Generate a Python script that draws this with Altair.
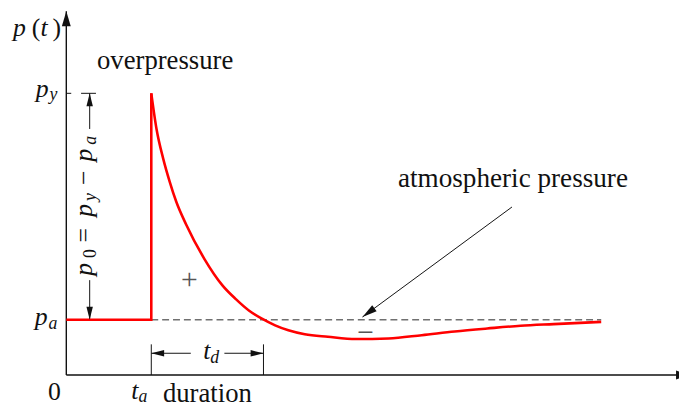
import altair as alt
import pandas as pd

# ---------------- data (schematic units: time in units of t_a, pressure in units of p_a) -------------
T_A = 1.0          # arrival time
T_D = 1.32         # positive-phase duration
P_A = 1.0          # ambient (atmospheric) pressure
P_Y = 5.09         # peak pressure
curve_t = [1.000, 1.062, 1.140, 1.217, 1.294, 1.410, 1.624, 1.837, 1.992, 2.148, 2.302,
           2.457, 2.613, 2.806, 3.078, 3.407, 3.791, 4.183, 4.570, 4.953, 5.345, 5.733, 6.294]
curve_p = [5.09, 4.44, 3.91, 3.49, 3.13, 2.72, 2.10, 1.62, 1.375, 1.166, 1.018,
           0.898, 0.809, 0.737, 0.691, 0.65, 0.66, 0.72, 0.786, 0.84, 0.89, 0.92, 0.96]
pre_t = [0.0, T_A, T_A]
pre_p = [P_A, P_A, P_Y]

# ---------------- layout ----------------
W, H = 679, 400
X0, Y0 = 59, 369      # origin inside the plot area (px)
SX, SY = 86, 56       # px per unit
xs = alt.Scale(domain=[-X0 / SX, (W - X0) / SX], nice=False, zero=False)
ys = alt.Scale(domain=[(Y0 - H) / SY, Y0 / SY], nice=False, zero=False)

FONT = "Liberation Serif, Times New Roman, DejaVu Serif, Noto Serif, serif"
INK = "#111111"
T_END = curve_t[-1]
X_TIP = (W - X0 + 12) / SX
Y_TIP = (Y0 - 1) / SY
DIM_X = 0.275          # vertical dimension line position
DIM_P = 0.393          # horizontal dimension line position
ATM_FROM = (5.244, 3.036)
ATM_TO = (3.485, 1.048)


def enc(**kw):
    out = dict(x=alt.X("t:Q", scale=xs, axis=None), y=alt.Y("p:Q", scale=ys, axis=None))
    out.update(kw)
    return out


def segs(rows, **mark):
    df = pd.DataFrame(rows, columns=["t", "p", "t2", "p2"])
    return alt.Chart(df).mark_rule(**mark).encode(
        **enc(x2=alt.X2("t2:Q"), y2=alt.Y2("p2:Q")))


def txt(t, p, s, size=26, italic=False, align="center", dx=0, dy=0, angle=0,
        color=INK, baseline="alphabetic"):
    df = pd.DataFrame({"t": [t], "p": [p], "s": [s]})
    kw = dict(font=FONT, fontSize=size, align=align, baseline=baseline, dx=dx, dy=dy,
              color=color)
    if italic:
        kw["fontStyle"] = "italic"
    if angle:
        kw["angle"] = angle
    return alt.Chart(df).mark_text(**kw).encode(**enc(text="s:N"))


layers = []

# axes
layers.append(segs([[0, 0, X_TIP, 0], [0, 0, 0, Y_TIP]], color=INK, strokeWidth=1.4))

# thin annotation lines
thin = [
    [0, P_Y, 0.058, P_Y], [0.174, P_Y, 0.349, P_Y],            # p_y marks
    [DIM_X, P_Y, DIM_X, 4.446], [DIM_X, 1.714, DIM_X, P_A],      # p0 dimension
    [T_A, DIM_P, 1.465, DIM_P], [1.860, DIM_P, T_A + T_D, DIM_P],  # t_d dimension
    [T_A, 0, T_A, 0.554], [T_A + T_D, 0, T_A + T_D, 0.554],       # t_d ticks
    [ATM_FROM[0], ATM_FROM[1], ATM_TO[0], ATM_TO[1]],             # atmospheric arrow
]
layers.append(segs(thin, color=INK, strokeWidth=1))

# atmospheric pressure dashed line
layers.append(segs([[T_A, P_A, T_END, P_A]], color="#707070", strokeWidth=1.5,
                   strokeDash=[7, 4]))

# red pressure history
pre = pd.DataFrame({"t": pre_t, "p": pre_p, "o": range(3)})
layers.append(alt.Chart(pre).mark_line(color="#ff0000", strokeWidth=2.6, strokeJoin="miter")
              .encode(**enc(order="o:Q")))
cur = pd.DataFrame({"t": curve_t, "p": curve_p, "o": range(len(curve_t))})
layers.append(alt.Chart(cur).mark_line(color="#ff0000", strokeWidth=2.6, interpolate="monotone")
              .encode(**enc(order="o:Q")))

# arrow heads (tip at the point, angle clockwise from "up")
HEAD = "M0,0L-0.25,1L0.25,1Z"
AXHEAD = "M0,0L-0.3,1L0.3,1Z"
heads = pd.DataFrame({
    "t": [DIM_X, DIM_X, T_A, T_A + T_D, ATM_TO[0]],
    "p": [P_Y, P_A, DIM_P, DIM_P, ATM_TO[1]],
    "a": [0, 180, 270, 90, 233.6],
    "s": [4 * 13 ** 2, 4 * 13 ** 2, 4 * 13 ** 2, 4 * 13 ** 2, 4 * 15 ** 2],
})
layers.append(alt.Chart(heads).mark_point(shape=HEAD, filled=True, color=INK, opacity=1,
                                          strokeWidth=0)
              .encode(**enc(angle=alt.Angle("a:Q", scale=None), size=alt.Size("s:Q", scale=None))))
axheads = pd.DataFrame({"t": [0, X_TIP], "p": [Y_TIP, 0], "a": [0, 90], "s": [4 * 15 ** 2] * 2})
layers.append(alt.Chart(axheads).mark_point(shape=AXHEAD, filled=True, color=INK, opacity=1,
                                            strokeWidth=0)
              .encode(**enc(angle=alt.Angle("a:Q", scale=None), size=alt.Size("s:Q", scale=None))))

# ---- text ----
# p(t)
layers += [
    txt(0, P_Y, "p", italic=True, align="left", dx=-54, dy=-58),
    txt(0, P_Y, "(", align="left", dx=-35, dy=-58),
    txt(0, P_Y, "t", italic=True, align="left", dx=-26, dy=-58),
    txt(0, P_Y, ")", align="left", dx=-14, dy=-58),
]
# p_y, p_a
layers += [
    txt(0, P_Y, "p", italic=True, align="right", dx=-18, dy=4),
    txt(0, P_Y, "y", size=18, italic=True, align="left", dx=-17, dy=7),
    txt(0, P_A, "p", italic=True, align="right", dx=-19, dy=5),
    txt(0, P_A, "a", size=18, italic=True, align="left", dx=-18, dy=9),
]
# 0, t_a, duration, t
layers += [
    txt(0, 0, "0", align="center", dx=-12, dy=25),
    txt(T_A, 0, "t", italic=True, align="right", dx=-13, dy=24),
    txt(T_A, 0, "a", size=18, italic=True, align="left", dx=-13, dy=27),
    txt(T_A + T_D / 2, 0, "duration", size=27, dy=27),
    txt(X_TIP, 0, "t", italic=True, align="left", dx=-10, dy=23),
]
# t_d
layers += [
    txt(T_A + T_D / 2, DIM_P, "t", italic=True, align="right", dx=3, dy=6),
    txt(T_A + T_D / 2, DIM_P, "d", size=18, italic=True, align="left", dx=3, dy=10),
]
# p0 = py - pa (vertical)
MID = (P_A + P_Y) / 2
layers += [
    txt(DIM_X, MID, "p", italic=True, angle=270, dx=-63.5, dy=2.5),
    txt(DIM_X, MID, "0", size=18, angle=270, dx=-47.5, dy=6.5),
    txt(DIM_X, MID, "=", angle=270, dx=-29, dy=2.5),
    txt(DIM_X, MID, "p", italic=True, angle=270, dx=-4, dy=2.5),
    txt(DIM_X, MID, "y", size=18, italic=True, angle=270, dx=9.5, dy=6.5),
    txt(DIM_X, MID, "\u2212", angle=270, dx=29, dy=2.5),
    txt(DIM_X, MID, "p", italic=True, angle=270, dx=52, dy=2.5),
    txt(DIM_X, MID, "a", size=18, italic=True, angle=270, dx=67, dy=6.5),
]
# phrases and phase signs
layers += [
    txt(T_A, P_Y, "overpressure", size=27, dx=14, dy=-25),
    txt(ATM_FROM[0], ATM_FROM[1], "atmospheric pressure", size=27.5, dx=1, dy=-20),
    txt(1.413, 1.759, "+", size=30, color="#555555", baseline="middle", dx=3, dy=2),
    txt(3.488, 0.821, "\u2212", size=30, color="#555555", baseline="middle", dx=3, dy=4),
]

chart = alt.layer(*layers).properties(
    width=W, height=H, autosize=alt.AutoSizeParams(type="none"), padding=0,
).configure_view(stroke=None)

chart.save("out.html", embed_options={"renderer": "svg", "actions": False})
